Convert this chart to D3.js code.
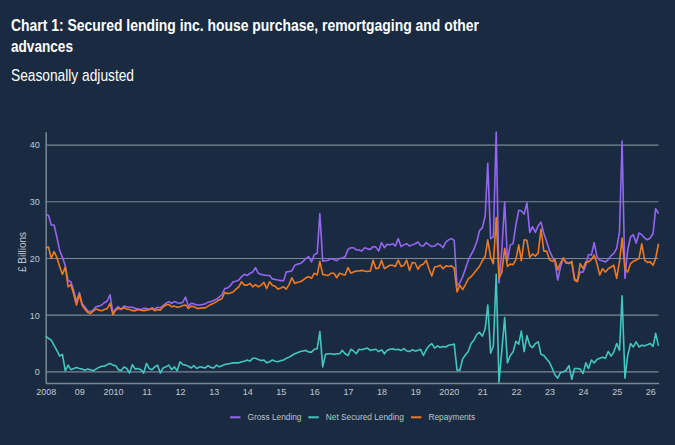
<!DOCTYPE html>
<html>
<head>
<meta charset="utf-8">
<script src="https://cdn.jsdelivr.net/npm/d3@7"></script>
<style>
  html, body { margin: 0; padding: 0; background: #1a2a40; }
  svg { display: block; }
</style>
</head>
<body>
<svg id="chart" width="675" height="445"></svg>
<script>
// Monthly data, Jan 2008 .. Apr 2026 (£ billions, seasonally adjusted)
const startYear = 2008;
const grossLending = [
  27.8, 27.6, 25.9, 25.9, 23.8, 21.4, 20.2, 18.7, 16.1, 15.9, 14.3, 12.4,
  14.0, 12.0, 11.5, 10.8, 10.6, 10.9, 11.5, 11.6, 11.8, 12.2, 12.5, 13.6,
  10.4, 11.1, 11.5, 11.0, 11.6, 11.5, 11.4, 11.4, 11.2, 11.1, 11.0, 11.2,
  11.2, 11.0, 11.3, 11.1, 11.4, 11.3, 11.7, 12.1, 12.4, 12.1, 12.4, 12.2,
  12.1, 12.3, 13.2, 11.6, 12.1, 12.0, 11.8, 11.8, 11.9, 12.0, 12.3, 12.4,
  12.6, 12.8, 13.2, 13.6, 14.7, 14.8, 15.2, 15.9, 16.0, 16.2, 16.8, 17.2,
  17.0, 17.4, 17.6, 18.4, 17.4, 17.2, 17.1, 17.0, 17.0, 16.4, 16.3, 16.2,
  16.1, 16.1, 17.6, 17.7, 17.8, 18.8, 19.0, 19.1, 19.5, 20.0, 20.3, 19.4,
  20.7, 20.9, 27.9, 19.5, 19.6, 19.7, 20.0, 19.8, 19.6, 20.0, 20.1, 20.3,
  21.6, 21.9, 21.9, 21.5, 21.5, 21.3, 21.9, 21.7, 21.6, 22.1, 22.0, 21.3,
  22.8, 21.9, 22.5, 22.4, 22.6, 22.2, 23.5, 22.1, 22.4, 22.6, 22.2, 22.4,
  22.6, 22.9, 22.3, 22.2, 22.8, 22.4, 22.1, 22.2, 22.6, 22.4, 21.9, 22.9,
  23.3, 23.5, 23.2, 15.2, 15.7, 16.8, 18.2, 19.7, 20.7, 21.6, 22.9, 24.9,
  25.4, 27.5, 36.8, 23.5, 23.8, 42.3, 15.7, 21.5, 30.0, 19.6, 22.4, 22.6,
  25.9, 28.5, 28.4, 27.8, 29.8, 24.6, 25.6, 24.6, 25.8, 26.4, 24.4, 23.0,
  21.4, 20.3, 19.4, 16.2, 18.5, 20.0, 19.4, 19.2, 19.3, 16.5, 16.0, 17.6,
  17.6, 18.8, 20.7, 20.6, 22.8, 20.3, 19.7, 19.6, 19.4, 19.8, 20.5, 20.9,
  21.8, 24.7, 40.7, 16.5, 21.5, 23.8, 24.2, 22.7, 24.5, 24.2, 23.6, 23.3,
  23.6, 24.4, 28.8, 27.9
];
const netSecuredLending = [
  6.3, 5.9, 5.6, 4.7, 3.8, 2.8, 3.1, 0.2, 1.2, 0.4, 0.6, 0.8,
  0.6, 0.5, 0.3, 0.5, 0.4, 0.2, 0.5, 0.8, 1.0, 1.0, 1.3, 1.5,
  1.2, 1.1, 0.4, 0.2, 0.9, 0.6, -0.2, 1.3, 0.5, 0.6, 0.4, -0.2,
  1.5, 0.6, 0.4, 0.9, 1.2, -0.2, 0.7, 0.9, 1.2, 0.4, 0.9, 0.2,
  1.8, 1.3, 1.2, 1.0, 0.7, 1.1, 0.6, 0.9, 0.8, 0.7, 1.1, 0.8,
  0.7, 1.2, 0.9, 1.1, 1.3, 1.4, 1.5, 1.6, 1.6, 1.6, 1.8, 1.9,
  2.1, 1.9, 2.4, 2.4, 2.2, 2.0, 2.1, 1.6, 1.8, 2.1, 1.9, 1.8,
  2.0, 2.1, 2.4, 2.6, 2.9, 3.2, 3.4, 3.6, 3.7, 3.8, 3.5, 3.5,
  4.0, 4.1, 7.1, 0.9, 3.1, 3.2, 3.2, 3.1, 3.2, 3.2, 3.8, 3.2,
  2.9, 4.0, 3.7, 3.2, 4.0, 3.9, 4.1, 4.2, 3.8, 3.9, 4.0, 3.6,
  3.9, 3.2, 3.8, 4.0, 4.1, 3.9, 4.0, 3.8, 4.1, 3.7, 3.6, 3.9,
  3.7, 3.8, 4.0, 2.9, 3.9, 4.6, 5.0, 4.2, 4.6, 4.3, 4.5, 4.4,
  4.7, 4.8, 4.9, 0.3, 0.3, 2.3, 3.0, 3.6, 5.0, 5.6, 6.6, 7.0,
  6.3, 7.6, 11.8, 3.3, 4.6, 17.2, -1.8, 3.8, 9.6, 1.6, 2.9, 3.5,
  5.4, 4.9, 7.2, 3.6, 6.4, 4.7, 4.3, 5.0, 5.3, 3.1, 2.9, 2.3,
  1.7, 0.6, -0.5, -1.1, -0.1, 0.0, 0.3, 1.1, -1.3, 0.6, 0.6, 0.5,
  -0.3, 1.6, 0.6, 2.1, 1.6, 2.2, 2.4, 2.6, 2.4, 3.6, 2.8, 3.5,
  5.0, 3.8, 13.4, -1.1, 2.9, 5.0, 4.4, 5.3, 4.4, 4.7, 4.6, 4.8,
  5.0, 4.5, 6.8, 4.6
];
const repayments = [
  21.9, 22.0, 20.0, 21.2, 20.2, 18.6, 17.2, 18.5, 15.0, 15.4, 13.7, 11.8,
  13.7, 11.7, 11.1, 10.5, 10.3, 10.7, 11.1, 10.9, 10.8, 11.0, 11.2, 12.1,
  10.1, 10.9, 11.2, 11.1, 11.3, 11.1, 11.0, 10.8, 10.8, 11.0, 10.9, 10.8,
  10.9, 11.0, 11.2, 10.8, 11.0, 10.9, 11.5, 11.8, 11.9, 11.5, 11.6, 11.4,
  11.5, 11.7, 11.8, 11.2, 11.6, 11.5, 11.2, 11.2, 11.3, 11.3, 11.6, 11.9,
  12.1, 12.4, 12.7, 12.9, 14.0, 13.8, 13.9, 14.1, 14.6, 15.0, 15.9, 15.3,
  15.3, 15.6, 15.0, 15.4, 15.0, 15.3, 15.8, 14.7, 15.9, 15.3, 15.1, 14.6,
  14.8, 15.0, 14.6, 15.4, 16.6, 15.6, 15.8, 15.9, 16.2, 16.6, 16.8, 16.5,
  17.4, 17.1, 19.5, 17.2, 17.1, 17.0, 17.4, 17.4, 16.6, 17.4, 17.2, 17.1,
  18.4, 17.4, 17.6, 17.8, 17.8, 17.9, 17.8, 17.7, 17.8, 19.7, 18.2, 18.3,
  19.7, 18.2, 18.5, 18.8, 18.8, 18.6, 19.7, 18.6, 18.8, 19.7, 17.9, 19.3,
  19.2, 18.1, 18.8, 19.0, 19.7, 18.2, 16.9, 18.5, 18.6, 18.8, 18.2, 18.7,
  18.6, 18.7, 18.3, 14.1, 15.3, 14.5, 15.4, 16.4, 16.8, 17.4, 18.0, 18.6,
  19.6, 20.4, 23.3, 20.2, 19.1, 27.2, 16.5, 17.6, 21.8, 18.6, 19.0, 18.9,
  19.8, 22.4, 19.6, 23.3, 23.2, 20.2, 20.8, 20.4, 21.0, 25.2, 21.3, 21.3,
  19.8, 19.5, 19.8, 18.0, 19.2, 20.1, 19.2, 19.1, 19.5, 16.2, 15.9, 19.1,
  18.2, 19.4, 19.4, 19.8, 20.6, 19.1, 17.1, 18.2, 17.6, 18.2, 18.5, 18.8,
  16.5, 19.5, 23.6, 18.2, 17.6, 19.1, 19.5, 19.7, 20.0, 22.6, 19.7, 19.3,
  19.4, 18.8, 20.0, 22.6
];
const seriesNames = ["Gross Lending", "Net Secured Lending", "Repayments"];
const seriesColors = ["#9466f2", "#43c6bf", "#f07a22"];
const yTicks = [0, 10, 20, 30, 40];
const xTickYears = [2008, 2009, 2010, 2011, 2012, 2013, 2014, 2015, 2016, 2017,
                    2018, 2019, 2020, 2021, 2022, 2023, 2024, 2025, 2026];
const xTickLabels = ["2008", "09", "2010", "11", "12", "13", "14", "15", "16", "17",
                     "18", "19", "2020", "21", "22", "23", "24", "25", "26"];
const titleLines = ["Chart 1: Secured lending inc. house purchase, remortgaging and other", "advances"];
const subtitle = "Seasonally adjusted";
const yLabel = "£ Billions";

(function () {
const svg = d3.select("#chart");
const W = 675, H = 445;
const FONT = "'Liberation Sans', Arial, Helvetica, sans-serif";
svg.append("rect").attr("width", W).attr("height", H).attr("fill", "#1a2a40");

const mLeft = 45.7, mRight = 658.5, mTop = 131.7, mBottom = 383;
const dates = grossLending.map((_, i) => new Date(startYear, i, 1));
const x = d3.scaleTime()
  .domain([dates[0], dates[dates.length - 1]])
  .range([mLeft, mRight]);
const y = d3.scaleLinear().domain([-1.95, 42.35]).range([mBottom, mTop]);

const gridColor = "#7d8796";

// gridlines
svg.append("g").selectAll("line").data(yTicks).join("line")
  .attr("x1", mLeft).attr("x2", mRight)
  .attr("y1", d => y(d)).attr("y2", d => y(d))
  .attr("stroke", gridColor).attr("stroke-width", 1.2);

// y axis
const yAxis = svg.append("g").attr("transform", `translate(${mLeft},0)`)
  .call(d3.axisLeft(y).tickValues(yTicks).tickSize(0).tickPadding(6));
yAxis.select(".domain").attr("stroke", gridColor).attr("stroke-width", 1.5);
yAxis.selectAll("text").attr("fill", "#c3c8d0").attr("font-size", "9px").attr("font-family", FONT);

// x axis
const xAxis = svg.append("g").attr("transform", `translate(0,${mBottom})`)
  .call(d3.axisBottom(x)
    .tickValues(xTickYears.map(yr => new Date(yr, 0, 1)))
    .tickFormat((d, i) => xTickLabels[i])
    .tickSize(0).tickPadding(6));
xAxis.select(".domain").attr("stroke", gridColor).attr("stroke-width", 1.5);
xAxis.selectAll("text").attr("fill", "#c3c8d0").attr("font-size", "9px").attr("font-family", FONT);

// lines
const allSeries = [grossLending, netSecuredLending, repayments];
const line = d3.line().x((d, i) => x(dates[i])).y(d => y(d));
[0, 2, 1].forEach(k => {
  svg.append("path").datum(allSeries[k])
    .attr("d", line)
    .attr("fill", "none")
    .attr("stroke", seriesColors[k])
    .attr("stroke-width", 1.6)
    .attr("stroke-linejoin", "round");
});

// titles
svg.append("text").attr("x", 11).attr("y", 30.7).text(titleLines[0])
  .attr("fill", "#ffffff").attr("font-weight", "bold").attr("font-size", "16px")
  .attr("font-family", FONT).attr("textLength", 468).attr("lengthAdjust", "spacingAndGlyphs");
svg.append("text").attr("x", 11).attr("y", 52.3).text(titleLines[1])
  .attr("fill", "#ffffff").attr("font-weight", "bold").attr("font-size", "16px")
  .attr("font-family", FONT).attr("textLength", 62).attr("lengthAdjust", "spacingAndGlyphs");
svg.append("text").attr("x", 11).attr("y", 81).text(subtitle)
  .attr("fill", "#ffffff").attr("font-size", "17px")
  .attr("font-family", FONT).attr("textLength", 123).attr("lengthAdjust", "spacingAndGlyphs");

// y label
svg.append("text")
  .attr("transform", "translate(26,252) rotate(-90)")
  .attr("text-anchor", "middle")
  .attr("fill", "#c3c8d0").attr("font-size", "10px").attr("font-family", FONT)
  .text(yLabel);

// legend
const legendX = [230, 308.3, 411];
const legend = svg.append("g");
seriesNames.forEach((name, k) => {
  legend.append("line")
    .attr("x1", legendX[k]).attr("x2", legendX[k] + 10.5)
    .attr("y1", 417.3).attr("y2", 417.3)
    .attr("stroke", seriesColors[k]).attr("stroke-width", 2);
  legend.append("text")
    .attr("x", legendX[k] + 17.5).attr("y", 420.2)
    .attr("fill", "#bfc5cd").attr("font-size", "8.3px").attr("font-family", FONT)
    .text(name);
});
})();
</script>
</body>
</html>
